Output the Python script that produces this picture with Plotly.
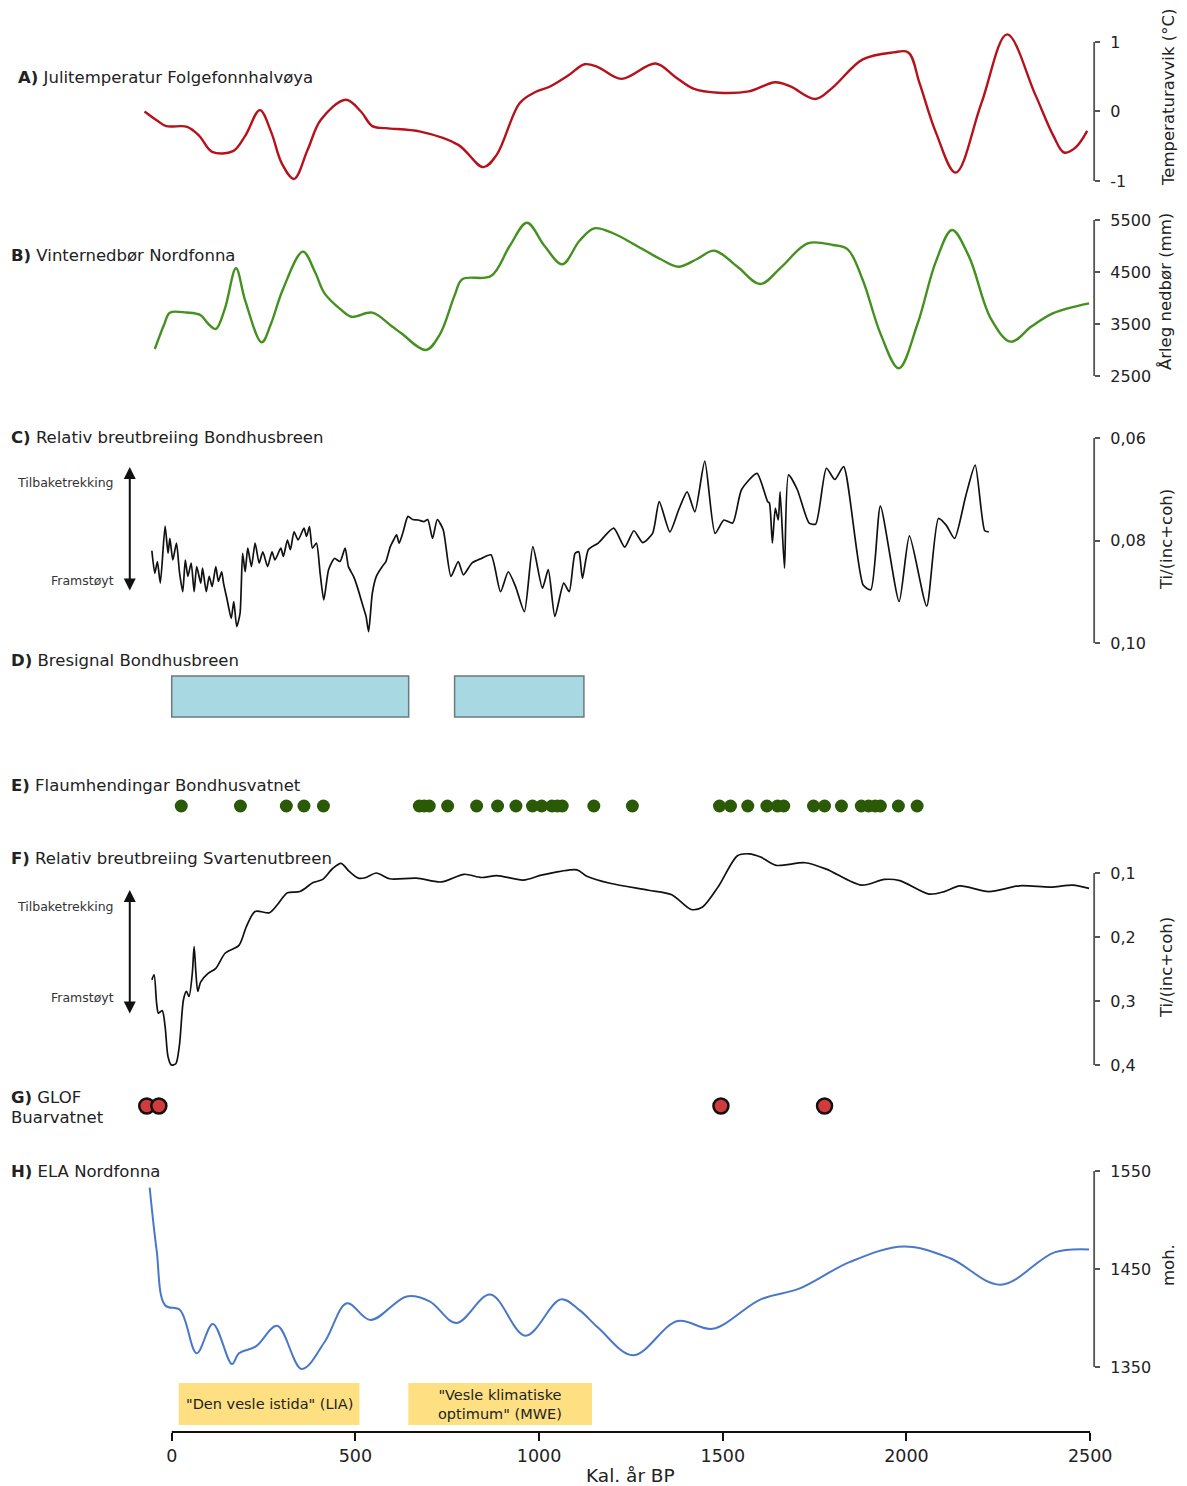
import plotly.graph_objects as go

# picture coordinates are W x H;
# the page is rendered slightly larger and comes back scaled to W x H.
W, H = 1187, 1486
W_PAGE, H_PAGE = 1204, 1490
FONT = "DejaVu Sans"

# ---------------- data (Kal. år BP) ----------------
A_yr = [-74, -40, -15, 42, 75, 110, 167, 200, 240, 271,
        300, 333, 370, 406, 474, 515, 546, 583, 677, 780,
        848, 885, 947, 990, 1030, 1080, 1124, 1160, 1224, 1317,
        1370, 1420, 1488, 1571, 1643, 1684, 1752, 1798, 1881, 1964,
        2005, 2036, 2080, 2134, 2204, 2274, 2350, 2400, 2429, 2460,
        2492]
A_val = [0.0, -0.13, -0.21, -0.22, -0.35, -0.58, -0.57, -0.35, 0.02, -0.30,
         -0.75, -0.97, -0.55, -0.12, 0.17, 0.0, -0.21, -0.24, -0.29, -0.48,
         -0.80, -0.62, 0.12, 0.28, 0.36, 0.52, 0.68, 0.64, 0.47, 0.69,
         0.50, 0.33, 0.27, 0.29, 0.42, 0.36, 0.18, 0.34, 0.75, 0.85,
         0.85, 0.40, -0.30, -0.88, 0.12, 1.11, 0.25, -0.35, -0.59, -0.52,
         -0.28]

B_yr = [-46, -20, -5, 40, 78, 100, 120, 145, 175, 200,
        245, 270, 302, 357, 390, 416, 460, 489, 546, 600,
        625, 692, 730, 770, 791, 869, 920, 967, 1015, 1063,
        1110, 1150, 1200, 1270, 1330, 1379, 1430, 1477, 1540, 1602,
        1660, 1731, 1800, 1840, 1881, 1930, 1979, 2030, 2080, 2124,
        2170, 2230, 2284, 2340, 2398, 2497]
B_val = [3019, 3500, 3718, 3720, 3673, 3500, 3404, 3800, 4571, 3950,
         3148, 3500, 4154, 4891, 4500, 4090, 3780, 3640, 3718, 3450,
         3321, 3000, 3300, 4050, 4360, 4423, 5000, 5448, 5000, 4648,
         5100, 5340, 5250, 4987, 4750, 4602, 4750, 4910, 4600, 4269,
         4600, 5052, 5020, 4936, 4346, 3300, 2648, 3500, 4700, 5308,
         4800, 3600, 3160, 3450, 3706, 3898]

C_yr = [-54, -46, -39, -31, -18, -10, -5, 3, 13, 21,
        30, 37, 44, 53, 61, 68, 79, 84, 94, 102,
        110, 120, 127, 136, 141, 151, 162, 169, 177, 186,
        193, 200, 207, 217, 227, 238, 248, 261, 273, 281,
        297, 304, 315, 323, 333, 344, 360, 367, 375, 383,
        394, 404, 414, 427, 443, 458, 472, 481, 495, 505,
        521, 529, 536, 546, 557, 573, 583, 595, 604, 612,
        619, 630, 643, 656, 671, 687, 697, 710, 723, 739,
        760, 780, 794, 817, 843, 869, 895, 916, 936, 960,
        983, 1009, 1025, 1043, 1067, 1082, 1098, 1108, 1118, 1134,
        1161, 1203, 1233, 1258, 1282, 1309, 1327, 1356, 1380, 1403,
        1424, 1451, 1479, 1503, 1527, 1551, 1593, 1622, 1627, 1635,
        1643, 1651, 1656, 1668, 1679, 1703, 1735, 1753, 1782, 1805,
        1829, 1882, 1903, 1929, 1980, 2008, 2055, 2087, 2108, 2131,
        2161, 2187, 2213, 2224]
C_val = [0.0820, 0.0864, 0.0841, 0.0883, 0.0772, 0.0825, 0.0796, 0.0838, 0.0805, 0.0861,
         0.0900, 0.0838, 0.0870, 0.0844, 0.0900, 0.0851, 0.0883, 0.0854, 0.0900, 0.0870,
         0.0890, 0.0851, 0.0880, 0.0861, 0.0883, 0.0916, 0.0952, 0.0919, 0.0968, 0.0942,
         0.0825, 0.0861, 0.0815, 0.0851, 0.0805, 0.0844, 0.0822, 0.0851, 0.0822, 0.0838,
         0.0815, 0.0831, 0.0799, 0.0818, 0.0783, 0.0799, 0.0776, 0.0792, 0.0773, 0.0815,
         0.0805, 0.0864, 0.0916, 0.0857, 0.0835, 0.0841, 0.0815, 0.0851, 0.0870, 0.0890,
         0.0929, 0.0948, 0.0978, 0.0903, 0.0870, 0.0851, 0.0841, 0.0812, 0.0799, 0.0789,
         0.0805, 0.0783, 0.0753, 0.0759, 0.0760, 0.0763, 0.0759, 0.0796, 0.0759, 0.0779,
         0.0870, 0.0841, 0.0867, 0.0844, 0.0835, 0.0828, 0.0900, 0.0861, 0.0890, 0.0939,
         0.0812, 0.0893, 0.0857, 0.0948, 0.0883, 0.0900, 0.0825, 0.0822, 0.0874, 0.0818,
         0.0805, 0.0776, 0.0813, 0.0781, 0.0804, 0.0786, 0.0724, 0.0783, 0.0740, 0.0705,
         0.0744, 0.0645, 0.0786, 0.0760, 0.0766, 0.0701, 0.0669, 0.0724, 0.0727, 0.0805,
         0.0737, 0.0760, 0.0705, 0.0854, 0.0672, 0.0701, 0.0766, 0.0768, 0.0659, 0.0681,
         0.0656, 0.0887, 0.0896, 0.0733, 0.0919, 0.0791, 0.0928, 0.0757, 0.0770, 0.0796,
         0.0714, 0.0653, 0.0781, 0.0783]

D_start = [0, 770]
D_end = [645, 1122]

E_yr = [26, 187, 312, 360, 413, 674, 687, 701, 751, 830,
        887, 937, 982, 1007, 1035, 1050, 1063, 1149, 1254, 1491,
        1521, 1568, 1620, 1649, 1666, 1747, 1777, 1823, 1877, 1897,
        1915, 1929, 1978, 2029]

F_yr = [-54, -48, -41, -36, -26, -18, -10, -1, 11, 21,
        32, 40, 47, 56, 61, 66, 71, 79, 99, 120,
        146, 183, 203, 227, 266, 287, 315, 349, 385, 411,
        438, 461, 484, 508, 529, 557, 593, 666, 734, 796,
        843, 885, 957, 1009, 1103, 1130, 1193, 1298, 1361, 1414,
        1445, 1488, 1540, 1572, 1603, 1645, 1724, 1782, 1877, 1940,
        1982, 2061, 2103, 2145, 2224, 2308, 2392, 2453, 2497]
F_val = [0.267, 0.259, 0.304, 0.319, 0.315, 0.340, 0.387, 0.400, 0.398, 0.369,
         0.298, 0.285, 0.293, 0.257, 0.215, 0.257, 0.285, 0.270, 0.257, 0.249,
         0.225, 0.213, 0.184, 0.160, 0.162, 0.150, 0.131, 0.129, 0.115, 0.110,
         0.093, 0.085, 0.098, 0.108, 0.107, 0.100, 0.109, 0.108, 0.114, 0.102,
         0.107, 0.104, 0.111, 0.103, 0.095, 0.105, 0.116, 0.127, 0.134, 0.157,
         0.153, 0.121, 0.073, 0.070, 0.075, 0.088, 0.084, 0.094, 0.119, 0.110,
         0.112, 0.133, 0.129, 0.120, 0.129, 0.120, 0.122, 0.119, 0.124]

G_yr = [-68, -35, 1495, 1777]

H_yr = [-60, -41, -18, 23, 68, 112, 164, 183, 229, 287,
        354, 417, 477, 541, 640, 702, 775, 867, 963, 1059,
        1110, 1161, 1256, 1377, 1472, 1603, 1708, 1845, 1992, 2119,
        2256, 2403, 2497]
H_val = [1533, 1469, 1413, 1408, 1364, 1394, 1353, 1364, 1371, 1392,
         1348, 1376, 1415, 1398, 1422, 1417, 1395, 1424, 1382, 1419,
         1408, 1390, 1362, 1397, 1389, 1419, 1430, 1457, 1473, 1461,
         1434, 1467, 1470]

P_start = [19, 644]
P_end = [511, 1144]
P_label = ['"Den vesle istida" (LIA)', '"Vesle klimatiske<br>optimum" (MWE)']

X_TICKS = [0, 500, 1000, 1500, 2000, 2500]

A_TICKS = [-1, 0, 1]
B_TICKS = [2500, 3500, 4500, 5500]
C_TICKS = [0.06, 0.08, 0.10]
C_TICKTEXT = ["0,06", "0,08", "0,10"]
F_TICKS = [0.1, 0.2, 0.3, 0.4]
F_TICKTEXT = ["0,1", "0,2", "0,3", "0,4"]
H_TICKS = [1350, 1450, 1550]

# ---------------- layout helpers ----------------
X0_PX = 172.0
PX_PER_YR = 920.0 / 2500.0
XR = [-85, 2510]


def xpx(yr):
    return X0_PX + yr * PX_PER_YR


def fx(p):
    return p / W


def fy(p):
    return 1 - p / H


def yax(v1, p1, v2, p2, lo, hi):
    k = (p2 - p1) / (v2 - v1)
    pa = p1 + (lo - v1) * k
    pb = p1 + (hi - v1) * k
    if pa > pb:
        return [fy(pa), fy(pb)], [lo, hi]
    return [fy(pb), fy(pa)], [hi, lo]


AX_X = 1096
tickfont = dict(family=FONT, size=16, color="#222")
common = dict(anchor="free", position=fx(AX_X), side="right", showgrid=False,
              zeroline=False, showline=False, ticks="outside", ticklen=5,
              tickwidth=1.6, tickcolor="#555", tickfont=tickfont, ticklabelstandoff=7)

dA, rA = yax(1, 42, -1, 181, -1.15, 1.25)
dB, rB = yax(5500, 220, 2500, 376, 2400, 5700)
dC, rC = yax(0.06, 438, 0.10, 643, 0.058, 0.102)
dF, rF = yax(0.1, 873, 0.4, 1065, 0.06, 0.41)
dH, rH = yax(1550, 1171, 1350, 1367, 1340, 1560)

fig = go.Figure()

fig.add_trace(go.Scatter(x=A_yr, y=A_val, mode="lines", yaxis="y",
                         line=dict(color="#b5121b", width=2.4, shape="spline", smoothing=1.0)))
fig.add_trace(go.Scatter(x=B_yr, y=B_val, mode="lines", yaxis="y2",
                         line=dict(color="#44911f", width=2.4, shape="spline", smoothing=1.0)))
fig.add_trace(go.Scatter(x=C_yr, y=C_val, mode="lines", yaxis="y3",
                         line=dict(color="#111", width=1.7, shape="spline", smoothing=0.6)))
fig.add_trace(go.Scatter(x=E_yr, y=[1] * len(E_yr), mode="markers", yaxis="y4", cliponaxis=False,
                         marker=dict(size=13, color="#2b5a06")))
fig.add_trace(go.Scatter(x=F_yr, y=F_val, mode="lines", yaxis="y5",
                         line=dict(color="#111", width=1.7, shape="spline", smoothing=0.8)))
fig.add_trace(go.Scatter(x=G_yr, y=[1] * len(G_yr), mode="markers", yaxis="y6", cliponaxis=False,
                         marker=dict(size=15, color="#d13b3b", line=dict(color="#111", width=2.5))))
fig.add_trace(go.Scatter(x=H_yr, y=H_val, mode="lines", yaxis="y7",
                         line=dict(color="#4a78c8", width=2.0, shape="spline", smoothing=1.0)))

shapes = []
# right-hand axis brackets
for ref, lo, hi in [("y", -1, 1), ("y2", 2500, 5500), ("y3", 0.06, 0.10),
                    ("y5", 0.1, 0.4), ("y7", 1350, 1550)]:
    shapes.append(dict(type="line", xref="paper", yref=ref, x0=fx(AX_X), x1=fx(AX_X),
                       y0=lo, y1=hi, line=dict(color="#555", width=1.8)))
# D boxes
for s, e in zip(D_start, D_end):
    shapes.append(dict(type="rect", xref="x", yref="paper", x0=s, x1=e, y0=fy(717), y1=fy(676),
                       fillcolor="#a8d8e2", line=dict(color="#6b7a80", width=1.5)))
# period boxes
for s, e in zip(P_start, P_end):
    shapes.append(dict(type="rect", xref="x", yref="paper", x0=s, x1=e, y0=fy(1425), y1=fy(1383),
                       fillcolor="#fee082", line=dict(width=0), layer="below"))
# bottom axis line
shapes.append(dict(type="line", xref="x", yref="paper", x0=X_TICKS[0], x1=X_TICKS[-1],
                   y0=fy(1432), y1=fy(1432), line=dict(color="#111", width=2)))

ann = []


def label(text, x, y, size=16.5, xanchor="left", color="#222", angle=0):
    ann.append(dict(text=text, x=fx(x), y=fy(y), xref="paper", yref="paper", showarrow=False,
                    xanchor=xanchor, yanchor="middle", textangle=angle,
                    font=dict(family=FONT, size=size, color=color)))


label("<b>A)</b> Julitemperatur Folgefonnhalvøya", 16, 77)
label("<b>B)</b> Vinternedbør Nordfonna", 9, 255)
label("<b>C)</b> Relativ breutbreiing Bondhusbreen", 9, 438)
label("<b>D)</b> Bresignal Bondhusbreen", 9, 660)
label("<b>E)</b> Flaumhendingar Bondhusvatnet", 9, 785)
label("<b>F)</b> Relativ breutbreiing Svartenutbreen", 9, 858)
label("<b>G)</b> GLOF", 9, 1097)
label("Buarvatnet", 9, 1117)
label("<b>H)</b> ELA Nordfonna", 9, 1171)

for yy, t in [(483, "Tilbaketrekking"), (580, "Framstøyt"), (906, "Tilbaketrekking"), (997, "Framstøyt")]:
    label(t, 116, yy, size=12.5, xanchor="right", color="#333")

# right axis titles
label("Temperaturavvik (°C)", 1170, 98, size=16.5, xanchor="center", angle=-90)
label("Årleg nedbør (mm)", 1168, 292, size=16.5, xanchor="center", angle=-90)
label("Ti/(inc+coh)", 1168, 540, size=16.5, xanchor="center", angle=-90)
label("Ti/(inc+coh)", 1168, 968, size=16.5, xanchor="center", angle=-90)
label("moh.", 1170, 1265, size=16.5, xanchor="center", angle=-90)

# x axis title
label("Kal. år BP", xpx(1250), 1475, size=18.5, xanchor="center")

# period labels
for s, e, t in zip(P_start, P_end, P_label):
    ann.append(dict(text=t, x=(s + e) / 2, y=fy(1404), xref="x", yref="paper", showarrow=False,
                    xanchor="center", yanchor="middle",
                    font=dict(family=FONT, size=14.5, color="#222")))

# double-headed arrows
for top, bot in [(467, 592), (890, 1015)]:
    ann.append(dict(text="", x=fx(130), y=fy(top), xref="paper", yref="paper",
                    ax=0, ay=bot - top, axref="pixel", ayref="pixel", showarrow=True,
                    arrowhead=2, startarrowhead=2, arrowside="end+start",
                    arrowsize=1.2, startarrowsize=1.2, arrowwidth=2, arrowcolor="#111"))

fig.update_layout(
    width=W_PAGE, height=H_PAGE, margin=dict(l=0, r=0, t=0, b=0),
    paper_bgcolor="white", plot_bgcolor="white", showlegend=False,
    font=dict(family=FONT, color="#222"),
    xaxis=dict(domain=[fx(xpx(XR[0])), fx(xpx(XR[1]))], range=XR, anchor="free", position=fy(1432),
               tickvals=X_TICKS, ticktext=[str(t) for t in X_TICKS], ticks="outside", ticklen=8,
               tickwidth=2, tickcolor="#111", showgrid=False, zeroline=False, showline=False,
               tickfont=dict(family=FONT, size=17.5, color="#222")),
    yaxis=dict(domain=dA, range=rA, tickvals=A_TICKS, ticktext=["-1", "0", "1"], **common),
    yaxis2=dict(domain=dB, range=rB, tickvals=B_TICKS, ticktext=[str(t) for t in B_TICKS], **common),
    yaxis3=dict(domain=dC, range=rC, tickvals=C_TICKS, ticktext=C_TICKTEXT, **common),
    yaxis4=dict(domain=[fy(816), fy(796)], range=[0, 2], anchor="free", position=0, visible=False),
    yaxis5=dict(domain=dF, range=rF, tickvals=F_TICKS, ticktext=F_TICKTEXT, **common),
    yaxis6=dict(domain=[fy(1116), fy(1096)], range=[0, 2], anchor="free", position=0, visible=False),
    yaxis7=dict(domain=dH, range=rH, tickvals=H_TICKS, ticktext=[str(t) for t in H_TICKS], **common),
    shapes=shapes, annotations=ann,
)

fig.write_html("out.html", config={"displayModeBar": False},
               post_script=("document.documentElement.style.overflow='hidden';"
                            "document.body.style.overflow='hidden';"
                            "document.body.style.margin='0px';"))
